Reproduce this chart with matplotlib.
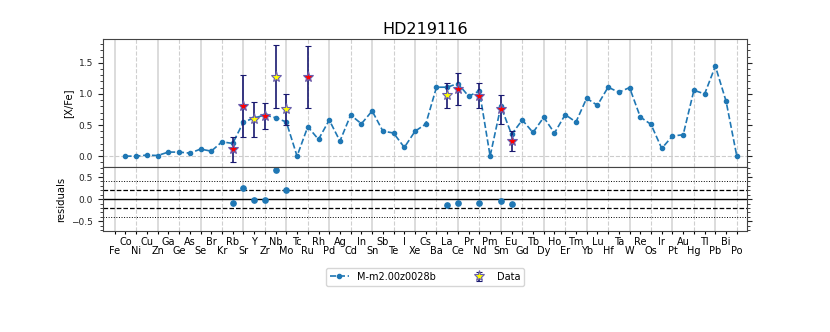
import numpy as np
from matplotlib import pyplot as plt
from matplotlib.ticker import MultipleLocator


# element symbols Fe..Po
elements = ['Fe', 'Co', 'Ni', 'Cu', 'Zn', 'Ga', 'Ge', 'As', 'Se', 'Br', 'Kr',
            'Rb', 'Sr', 'Y', 'Zr', 'Nb', 'Mo', 'Tc', 'Ru', 'Rh', 'Pd', 'Ag',
            'Cd', 'In', 'Sn', 'Sb', 'Te', 'I', 'Xe', 'Cs', 'Ba', 'La', 'Ce',
            'Pr', 'Nd', 'Pm', 'Sm', 'Eu', 'Gd', 'Tb', 'Dy', 'Ho', 'Er', 'Tm',
            'Yb', 'Lu', 'Hf', 'Ta', 'W', 'Re', 'Os', 'Ir', 'Pt', 'Au', 'Hg',
            'Tl', 'Pb', 'Bi', 'Po']
z_first = 26

# model [X/Fe], Co (Z=27) .. Po (Z=84)
model_name = 'M-m2.00z0028b'
model_xfe = [0.00, 0.00, 0.016, 0.01, 0.065, 0.065, 0.048, 0.113, 0.08, 0.23,
             0.204, 0.548, 0.613, 0.661, 0.618, 0.548, 0.0, 0.473, 0.269, 0.58,
             0.242, 0.661, 0.52, 0.726, 0.403, 0.371, 0.14, 0.40, 0.516, 1.108,
             1.108, 1.167, 0.962, 1.048, 0.0, 0.80, 0.35, 0.58, 0.38, 0.624,
             0.371, 0.667, 0.548, 0.93, 0.817, 1.108, 1.027, 1.102, 0.629, 0.51,
             0.124, 0.323, 0.344, 1.059, 1.0, 1.446, 0.882, 0.0]

# observed abundances
star_name = 'HD219116'
obs_el = ['Rb', 'Sr', 'Y', 'Zr', 'Nb', 'Mo', 'Ru', 'La', 'Ce', 'Nd', 'Sm', 'Eu']
obs_xfe = [0.11, 0.81, 0.59, 0.65, 1.28, 0.75, 1.27, 0.98, 1.08, 0.97, 0.75, 0.25]
obs_err = [0.20, 0.50, 0.28, 0.21, 0.50, 0.25, 0.50, 0.20, 0.26, 0.20, 0.23, 0.16]
obs_flag = [0, 0, 1, 0, 1, 1, 0, 1, 0, 0, 0, 0]   # 1 -> yellow star


model_z = np.arange(z_first + 1, z_first + 1 + len(model_xfe))
model_xfe = np.array(model_xfe)
obs_z = np.array([z_first + elements.index(e) for e in obs_el])
obs_xfe = np.array(obs_xfe)
obs_err = np.array(obs_err)
resid = obs_xfe - model_xfe[obs_z - (z_first + 1)]

fig = plt.figure(figsize=(8.3, 3.32), dpi=100)
ax = fig.add_axes([0.124, 0.496, 0.776, 0.386])
axr = fig.add_axes([0.124, 0.304, 0.776, 0.192], sharex=ax)

all_z = np.arange(z_first, z_first + len(elements))
for a in (ax, axr):
    for z in all_z[::4]:
        a.axvline(z, color='#d9d9d9', lw=1.3, zorder=0)
    for z in all_z[2::4]:
        a.axvline(z, color='#cfcfcf', lw=0.8, ls='--', zorder=0)
    for s in a.spines.values():
        s.set_color('#444444')
    a.tick_params(axis='y', which='both', right=True, labelsize=6.5, colors='#222222')
    a.tick_params(axis='y', which='major', length=3.5)
    a.tick_params(axis='y', which='minor', length=2)

ax.axhline(0, color='#cccccc', lw=0.8, ls='--', zorder=0)
ax.plot(model_z, model_xfe, 'o', ls='--', color='C0', ms=3, lw=1.2, label=model_name)

first = True
for z, v, e, f in zip(obs_z, obs_xfe, obs_err, obs_flag):
    fc = 'yellow' if f else 'red'
    kw = {}
    if f and first:
        kw['label'] = 'Data'
        first = False
    ax.errorbar(z, v, yerr=e, fmt='*', color='midnightblue', ecolor='midnightblue',
                mfc=fc, mec='#6a5fb0', mew=0.8, ms=8, elinewidth=1.2, capsize=2,
                capthick=1, zorder=5, **kw)

ax.set_ylim(-0.18, 1.88)
ax.yaxis.set_major_locator(MultipleLocator(0.5))
ax.yaxis.set_minor_locator(MultipleLocator(0.1))
ax.set_ylabel('[X/Fe]', fontsize=7.2)
ax.set_title(star_name, fontsize=11.5, pad=4)
ax.tick_params(axis='x', which='both', labelbottom=False, bottom=False)

axr.axhline(0, color='k', lw=1)
for h in (0.2, -0.2):
    axr.axhline(h, color='k', lw=0.9, ls='--')
for h in (0.4, -0.4):
    axr.axhline(h, color='k', lw=0.7, ls=':')
axr.plot(obs_z, resid, 'o', color='C0', ms=3.8, ls='none')
axr.set_ylim(-0.72, 0.72)
axr.yaxis.set_major_locator(MultipleLocator(0.5))
axr.yaxis.set_minor_locator(MultipleLocator(0.1))
axr.set_ylabel('residuals', fontsize=7.2)

labels = [el if (z_first + i) % 2 else '\n' + el for i, el in enumerate(elements)]
axr.set_xticks(all_z)
axr.set_xticklabels(labels, fontsize=7, linespacing=0.9)
axr.tick_params(axis='x', length=2, pad=2)
axr.set_xlim(z_first - 1.1, all_z[-1] + 0.95)

h1, l1 = ax.get_legend_handles_labels()
fig.legend(h1, l1, loc='center', bbox_to_anchor=(0.512, 0.166), ncol=2,
           fontsize=7, frameon=True, edgecolor='#cccccc', columnspacing=3.5)

fig.savefig('out.png', dpi=100)
